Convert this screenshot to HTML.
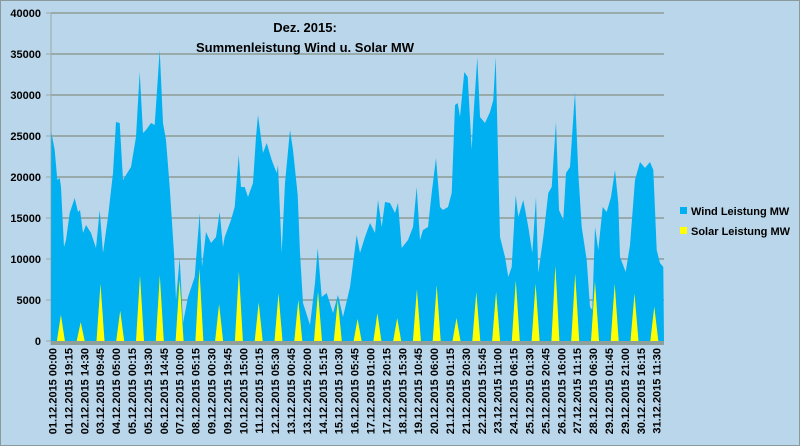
<!DOCTYPE html>
<html><head><meta charset="utf-8"><style>
body{margin:0;background:#b9d5ea;}
svg{display:block;font-family:"Liberation Sans",sans-serif;font-weight:bold;}
</style></head><body>
<svg width="800" height="446" viewBox="0 0 800 446" xmlns="http://www.w3.org/2000/svg">
<rect x="0.5" y="0.5" width="799" height="445" fill="#bad6ea" stroke="#8a9a9a"/>
<g stroke="#8d9c95" stroke-width="1.5">
<line x1="51" y1="300" x2="664" y2="300"/><line x1="51" y1="259" x2="664" y2="259"/>
<line x1="51" y1="218" x2="664" y2="218"/><line x1="51" y1="177" x2="664" y2="177"/>
<line x1="51" y1="136" x2="664" y2="136"/><line x1="51" y1="95" x2="664" y2="95"/>
<line x1="51" y1="54" x2="664" y2="54"/><line x1="51" y1="13" x2="664" y2="13"/>
</g>
<g stroke="#9aa8a4"><line x1="51" y1="13" x2="51" y2="345"/>
<line x1="46" y1="13" x2="51" y2="13"/><line x1="46" y1="54" x2="51" y2="54"/><line x1="46" y1="95" x2="51" y2="95"/><line x1="46" y1="136" x2="51" y2="136"/><line x1="46" y1="177" x2="51" y2="177"/><line x1="46" y1="218" x2="51" y2="218"/><line x1="46" y1="259" x2="51" y2="259"/><line x1="46" y1="300" x2="51" y2="300"/><line x1="46" y1="341" x2="51" y2="341"/></g>
<polygon fill="#00b0f0" points="51,341 51.3,132 54.7,150 57.3,180 59.7,178 61,187 64,247 66,240 69.7,213 74.7,198 78,212 80,210 83,233 86,225 91,233 96,248 99.7,210 103,253 108,217 113,173 116,122 119.7,123 123,180 126,175 131,167 136,137 139.7,72 143,133 146,130 151,123 154.7,125 159.7,50 163,123 166,140 169.7,187 174,253 176,300 179.7,258 183,323 188,297 194.7,277 199.7,213 202,267 206,232 211,243 216,237 219.7,212 223,247 224.7,237 231,220 234.7,207 238.7,155 241,187 244.7,187 248,197 253,183 256,137 258,115 263,153 266.7,143 271.7,160 276.7,173 278,165 281.7,253 285,183 290,130 293,150 297.7,195 300,253 303,303 310,325 315,283 317.7,248 321.7,297 326.7,293 333,313 338,295 343,317 350,287 356.7,235 360,253 365,237 370,223 375,233 378,200 381.7,227 385,202 390,203 395,213 398,203 401.7,248 408,240 413,227 416.7,187 420,240 423,230 428,227 431.7,193 436,158 440,207 443,210 448,207 451.7,193 455,105 457.7,103 460,117 464.3,72 467.7,77 471.7,150 473,123 477.3,57 480,117 485,123 490,112 493.3,100 495.7,57 498.3,167 500,237 505,257 508.3,277 511.7,267 515.7,195 518.3,217 523.3,200 528.3,227 532.3,253 536,197 538.3,273 543.3,237 548.3,193 551.7,187 556,122 559,210 563.3,220 566,173 570,167 575,92 578.3,173 581.7,227 586.7,260 590,307 592.3,310 595,227 598.3,250 602.7,207 606.7,212 611,197 615,170 618.3,203 620,257 625.7,272 630,245 635,180 640,162 645,168 650,162 653.3,170 656.7,250 660,263 663.3,267 664,341"/>
<g fill="#ffff00">
<polygon points="56.9,341 60.9,314.8 64.9,341"/><polygon points="76.7,341 80.7,322.1 84.7,341"/>
<polygon points="96.5,341 100.5,283.6 104.5,341"/><polygon points="116.2,341 120.2,310.7 124.2,341"/>
<polygon points="136,341 140,275.4 144,341"/><polygon points="155.8,341 159.8,275.4 163.8,341"/>
<polygon points="175.6,341 179.6,279.5 183.6,341"/><polygon points="195.4,341 199.4,268.8 203.4,341"/>
<polygon points="215.1,341 219.1,304.1 223.1,341"/><polygon points="234.9,341 238.9,271.3 242.9,341"/>
<polygon points="254.7,341 258.7,302.5 262.7,341"/><polygon points="274.5,341 278.5,293.4 282.5,341"/>
<polygon points="294.3,341 298.3,300 302.3,341"/><polygon points="314,341 318,291.8 322,341"/>
<polygon points="333.8,341 337.8,300 341.8,341"/><polygon points="353.6,341 357.6,318.9 361.6,341"/>
<polygon points="373.4,341 377.4,313.1 381.4,341"/><polygon points="393.2,341 397.2,318 401.2,341"/>
<polygon points="412.9,341 416.9,289.3 420.9,341"/><polygon points="432.7,341 436.7,285.2 440.7,341"/>
<polygon points="452.5,341 456.5,318 460.5,341"/><polygon points="472.3,341 476.3,291.8 480.3,341"/>
<polygon points="492.1,341 496.1,291.8 500.1,341"/><polygon points="511.8,341 515.8,280.3 519.8,341"/>
<polygon points="531.6,341 535.6,283.6 539.6,341"/><polygon points="551.4,341 555.4,265.6 559.4,341"/>
<polygon points="571.2,341 575.2,273.8 579.2,341"/><polygon points="591,341 595,281.1 599,341"/>
<polygon points="610.7,341 614.7,283.6 618.7,341"/><polygon points="630.5,341 634.5,293.4 638.5,341"/>
<polygon points="650.3,341 654.3,306.6 658.3,341"/>
</g>
<rect x="51" y="341" width="613" height="4" fill="#8fa09a"/>
<g font-size="11" fill="#000" text-anchor="end">
<text x="41" y="17">40000</text><text x="41" y="58">35000</text><text x="41" y="99">30000</text>
<text x="41" y="140">25000</text><text x="41" y="181">20000</text><text x="41" y="222">15000</text>
<text x="41" y="263">10000</text><text x="41" y="304">5000</text><text x="41" y="345">0</text>
</g>
<g font-size="13" text-anchor="middle" fill="#000">
<text x="305" y="32">Dez. 2015:</text>
<text x="305" y="52">Summenleistung Wind u. Solar MW</text>
</g>
<rect x="680" y="207" width="7" height="7" fill="#00b0f0"/>
<text x="691" y="215" font-size="11">Wind Leistung MW</text>
<rect x="680" y="227" width="7" height="7" fill="#ffff00"/>
<text x="691" y="235" font-size="11">Solar Leistung MW</text>
<g font-size="11" text-anchor="end" fill="#000">
<text transform="translate(56.5,348) rotate(-90)">01.12.2015 00:00</text>
<text transform="translate(72.4,348) rotate(-90)">01.12.2015 19:15</text>
<text transform="translate(88.3,348) rotate(-90)">02.12.2015 14:30</text>
<text transform="translate(104.2,348) rotate(-90)">03.12.2015 09:45</text>
<text transform="translate(120.1,348) rotate(-90)">04.12.2015 05:00</text>
<text transform="translate(136,348) rotate(-90)">05.12.2015 00:15</text>
<text transform="translate(151.9,348) rotate(-90)">05.12.2015 19:30</text>
<text transform="translate(167.8,348) rotate(-90)">06.12.2015 14:45</text>
<text transform="translate(183.7,348) rotate(-90)">07.12.2015 10:00</text>
<text transform="translate(199.6,348) rotate(-90)">08.12.2015 05:15</text>
<text transform="translate(215.5,348) rotate(-90)">09.12.2015 00:30</text>
<text transform="translate(231.4,348) rotate(-90)">09.12.2015 19:45</text>
<text transform="translate(247.3,348) rotate(-90)">10.12.2015 15:00</text>
<text transform="translate(263.2,348) rotate(-90)">11.12.2015 10:15</text>
<text transform="translate(279.1,348) rotate(-90)">12.12.2015 05:30</text>
<text transform="translate(295,348) rotate(-90)">13.12.2015 00:45</text>
<text transform="translate(310.9,348) rotate(-90)">13.12.2015 20:00</text>
<text transform="translate(326.8,348) rotate(-90)">14.12.2015 15:15</text>
<text transform="translate(342.7,348) rotate(-90)">15.12.2015 10:30</text>
<text transform="translate(358.6,348) rotate(-90)">16.12.2015 05:45</text>
<text transform="translate(374.5,348) rotate(-90)">17.12.2015 01:00</text>
<text transform="translate(390.4,348) rotate(-90)">17.12.2015 20:15</text>
<text transform="translate(406.3,348) rotate(-90)">18.12.2015 15:30</text>
<text transform="translate(422.2,348) rotate(-90)">19.12.2015 10:45</text>
<text transform="translate(438.1,348) rotate(-90)">20.12.2015 06:00</text>
<text transform="translate(454,348) rotate(-90)">21.12.2015 01:15</text>
<text transform="translate(469.9,348) rotate(-90)">21.12.2015 20:30</text>
<text transform="translate(485.8,348) rotate(-90)">22.12.2015 15:45</text>
<text transform="translate(501.7,348) rotate(-90)">23.12.2015 11:00</text>
<text transform="translate(517.6,348) rotate(-90)">24.12.2015 06:15</text>
<text transform="translate(533.5,348) rotate(-90)">25.12.2015 01:30</text>
<text transform="translate(549.4,348) rotate(-90)">25.12.2015 20:45</text>
<text transform="translate(565.3,348) rotate(-90)">26.12.2015 16:00</text>
<text transform="translate(581.2,348) rotate(-90)">27.12.2015 11:15</text>
<text transform="translate(597.1,348) rotate(-90)">28.12.2015 06:30</text>
<text transform="translate(613,348) rotate(-90)">29.12.2015 01:45</text>
<text transform="translate(628.9,348) rotate(-90)">29.12.2015 21:00</text>
<text transform="translate(644.8,348) rotate(-90)">30.12.2015 16:15</text>
<text transform="translate(660.7,348) rotate(-90)">31.12.2015 11:30</text>
</g>
</svg>
</body></html>
